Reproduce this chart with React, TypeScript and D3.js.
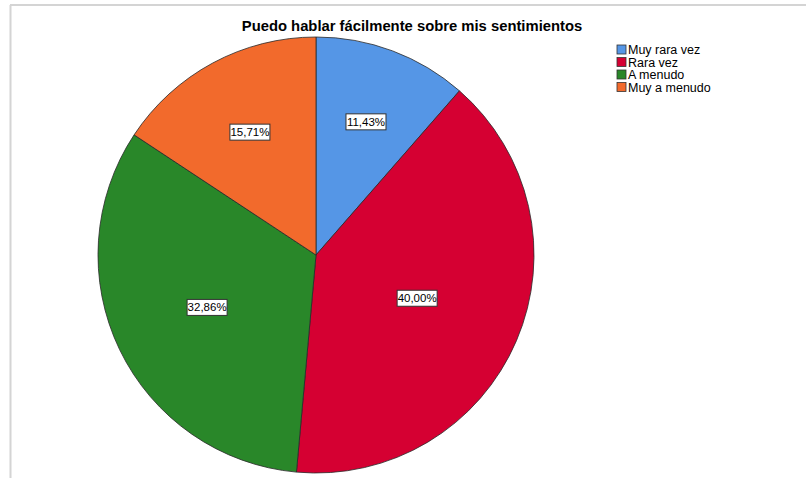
import React from "react";
import * as d3 from "d3";

const categories = ["Muy rara vez", "Rara vez", "A menudo", "Muy a menudo"];
const percentages = [11.43, 40.0, 32.86, 15.71];
const colors = ["#5596E6", "#D50032", "#298729", "#F26A2C"];
const title = "Puedo hablar fácilmente sobre mis sentimientos";

const W = 806;
const H = 478;
const cx = 316;
const cy = 255;
const R = 218;

const fmt = (v: number) => v.toFixed(2).replace(".", ",") + "%";

export default function App() {
  const pie = d3
    .pie<number>()
    .sort(null)
    .startAngle(0)
    .endAngle(2 * Math.PI)
    .value((d) => d);
  const arcs = pie(percentages);
  const arc = d3.arc<d3.PieArcDatum<number>>().innerRadius(0).outerRadius(R);

  return (
    <svg
      width={W}
      height={H}
      style={{ position: "absolute", left: 0, top: 0, background: "#fff" }}
      fontFamily="'Liberation Sans', Arial, sans-serif"
    >
      <rect x={0} y={0} width={W} height={H} fill="#fff" />
      <line x1={10.5} y1={5} x2={10.5} y2={H} stroke="#d4d4d4" strokeWidth={2} />
      <line x1={10} y1={5} x2={W} y2={5} stroke="#d4d4d4" strokeWidth={2} />
      <text
        x={412}
        y={31}
        textAnchor="middle"
        fontSize={14.8}
        fontWeight="bold"
        fill="#000"
      >
        {title}
      </text>
      <g transform={`translate(${cx},${cy})`}>
        {arcs.map((a, i) => (
          <path
            key={i}
            d={arc(a) || ""}
            fill={colors[i]}
            stroke="#2a2a2a"
            strokeWidth={0.8}
          />
        ))}
        {arcs.map((a, i) => {
          const theta = a.endAngle - a.startAngle;
          const mid = (a.startAngle + a.endAngle) / 2;
          const d = (4 * R * Math.sin(theta / 2)) / (3 * theta);
          const x = d * Math.sin(mid);
          const y = -d * Math.cos(mid);
          const bw = 40;
          const bh = 16;
          return (
            <g key={"l" + i} transform={`translate(${x},${y})`}>
              <rect
                x={-bw / 2}
                y={-bh / 2}
                width={bw}
                height={bh}
                fill="#fff"
                stroke="#333"
                strokeWidth={1}
              />
              <text
                x={0}
                y={4}
                textAnchor="middle"
                fontSize={11.5}
                fill="#000"
              >
                {fmt(percentages[i])}
              </text>
            </g>
          );
        })}
      </g>
      <g transform="translate(617,45)">
        {categories.map((c, i) => (
          <g key={c} transform={`translate(0,${i * 12.5})`}>
            <rect
              x={0}
              y={0}
              width={9}
              height={9}
              fill={colors[i]}
              stroke="#333"
              strokeWidth={0.8}
            />
            <text x={11} y={9} fontSize={12.5} fill="#000">
              {c}
            </text>
          </g>
        ))}
      </g>
    </svg>
  );
}
